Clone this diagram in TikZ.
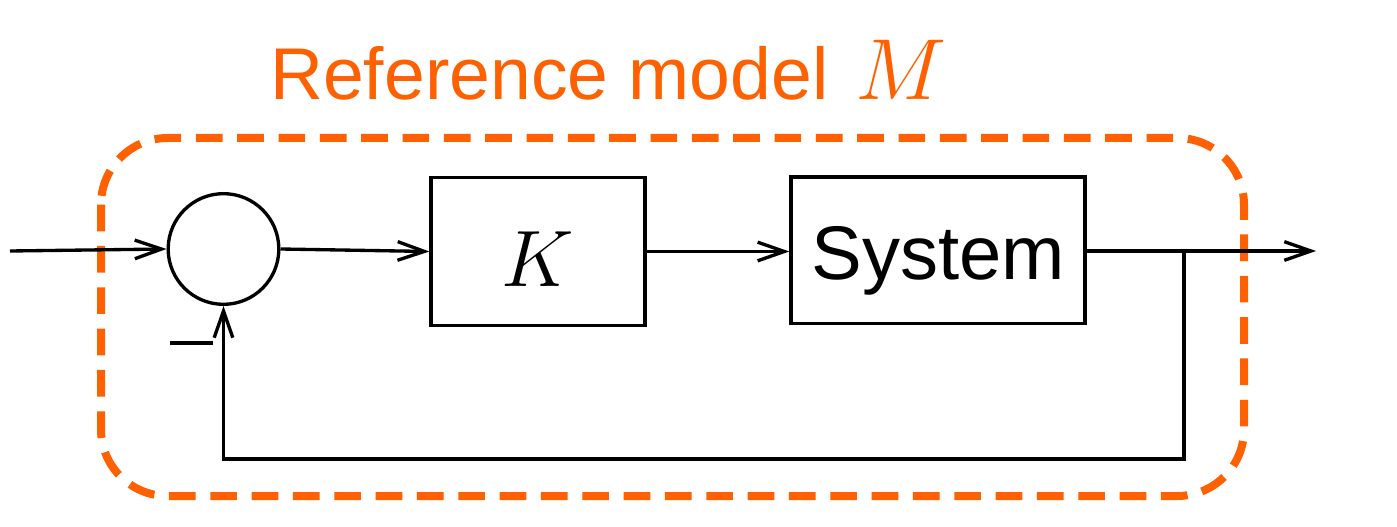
\RequirePackage{fix-cm}
\documentclass[tikz,border=0pt]{standalone}
\usepackage{fontspec}
\setmainfont{Liberation Sans}
\usetikzlibrary{arrows.meta}
\definecolor{refor}{HTML}{FF6000}
\begin{document}
\begin{tikzpicture}[x=0.75pt,y=-0.75pt,
  wire/.style={line width=2.5pt,-{Straight Barb[length=20pt,width=14pt,line width=2.5pt]}},
  blk/.style={draw,line width=2.5pt,inner sep=0pt}]
\useasboundingbox (0,0) rectangle (1397,527);
% dashed frame
\draw[refor,line width=6pt,dash pattern=on 20pt off 11pt,rounded corners=50pt] (101,138) rectangle (1244,496);
\node[refor,font=\fontsize{55}{60}\selectfont,anchor=base west,inner sep=0pt] (title) at (270,100) {Reference model\hspace{20pt}{\fontsize{65}{68}\selectfont$M$}};
% blocks
\node[blk,circle,minimum size=83pt] (sum) at (223.5,249) {};
\node[blk,minimum width=160.5pt,minimum height=111pt,text height=52pt,text depth=0pt] (K) at (538,251.5) {\fontsize{60}{64}\selectfont$K$};
\node[blk,minimum width=220.5pt,minimum height=110pt,text height=44pt,text depth=0pt] (sys) at (938,250.5) {\fontsize{57}{62}\selectfont System};
\coordinate (in) at (10,251);
\coordinate (out) at (1316,251);
\coordinate (br) at (1184,251);
\coordinate (fb1) at (1184,459);
\coordinate (fb2) at (223.5,459);
\draw[wire] (in) -- (sum.west);
\draw[wire] (sum.east) -- (K.west);
\draw[wire] (K.east) -- (K.east -| sys.west);
\draw[wire] (sys.east |- out) -- (out);
\draw[wire] (br) -- (fb1) -- (fb2) -- (sum.south);
\node[fill,minimum width=32pt,minimum height=3.6pt,inner sep=0pt] (minus) at (191.5,343) {};
\end{tikzpicture}
\end{document}
